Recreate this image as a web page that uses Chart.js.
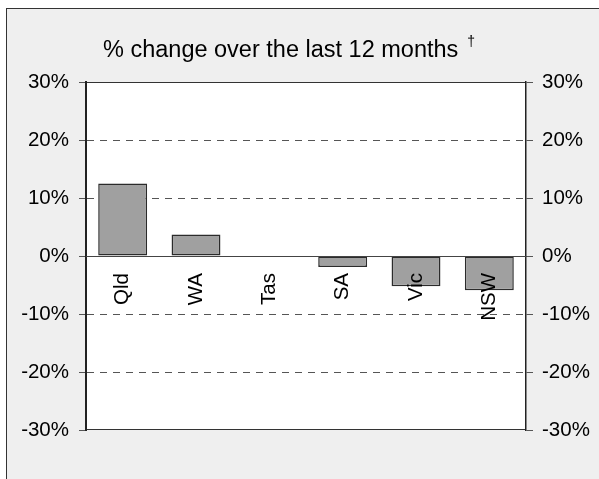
<!DOCTYPE html>
<html>
<head>
<meta charset="utf-8">
<script src="https://cdn.jsdelivr.net/npm/chart.js@4"></script>
<style>
  html, body { margin: 0; padding: 0; background: #fff; }
  canvas { display: block; }
</style>
</head>
<body>
<canvas id="changeChart" width="599" height="479"></canvas>
<script>
var states = ["Qld", "WA", "Tas", "SA", "Vic", "NSW"];
var changes = [12.5, 3.7, 0, -1.9, -5.2, -5.9];
var tickValues = [-30, -20, -10, 0, 10, 20, 30];
var titleText = "% change over the last 12 months";
var titleMark = "\u2020";

var FONT = "'Liberation Sans', Arial, sans-serif";

// grey panel, white plot area and the plot frame
var panel = {
  id: "panel",
  beforeDraw: function(chart) {
    var ctx = chart.ctx;
    var a = chart.chartArea;
    ctx.save();
    ctx.fillStyle = "#ffffff";
    ctx.fillRect(0, 0, chart.width, chart.height);
    ctx.fillStyle = "#efefef";
    ctx.fillRect(6, 8, chart.width, chart.height);
    ctx.strokeStyle = "#333333";
    ctx.lineWidth = 1;
    ctx.strokeRect(6.5, 8.5, chart.width + 10, chart.height + 10);
    ctx.fillStyle = "#ffffff";
    ctx.fillRect(a.left, a.top, a.right - a.left, a.bottom - a.top);
    ctx.strokeStyle = "#333333";
    ctx.beginPath();
    ctx.moveTo(a.left, a.top + 0.5);
    ctx.lineTo(a.right, a.top + 0.5);
    ctx.moveTo(a.left, a.bottom - 0.5);
    ctx.lineTo(a.right, a.bottom - 0.5);
    ctx.stroke();
    ctx.restore();
  },
  afterDraw: function(chart) {
    var ctx = chart.ctx;
    ctx.save();
    ctx.fillStyle = "#000000";
    ctx.textBaseline = "alphabetic";
    ctx.textAlign = "left";
    ctx.font = "23.5px " + FONT;
    ctx.fillText(titleText, 103, 57);
    var w = ctx.measureText(titleText).width;
    ctx.font = "14px " + FONT;
    ctx.fillText(titleMark, 103 + w + 9, 46);
    ctx.restore();
  }
};

var pct = function(v) { return v + "%"; };

var ctx = document.getElementById("changeChart").getContext("2d");
var chart = new Chart(ctx, {
  type: "bar",
  data: {
    labels: states,
    datasets: [{
      label: "Change",
      data: changes,
      backgroundColor: "#a0a0a0",
      borderColor: "#2b2b2b",
      borderWidth: 1.5,
      borderSkipped: false,
      barPercentage: 0.667,
      categoryPercentage: 1,
      yAxisID: "y"
    }]
  },
  options: {
    responsive: false,
    animation: false,
    devicePixelRatio: 1,
    layout: { padding: { top: 82, bottom: 49, left: 0, right: 0 } },
    plugins: {
      legend: { display: false },
      title: { display: false },
      tooltip: { enabled: false }
    },
    scales: {
      x: {
        position: { y: 0 },
        grid: { display: false, drawTicks: false },
        border: { display: true, color: "#444444", width: 1, z: 1 },
        ticks: {
          z: 1,
          color: "#000000",
          font: { family: FONT, size: 20.5 },
          minRotation: 90,
          maxRotation: 90,
          autoSkip: false,
          padding: 17
        }
      },
      y: {
        position: "left",
        min: -30,
        max: 30,
        afterBuildTicks: function(scale) {
          scale.ticks = tickValues.map(function(v) { return { value: v }; });
        },
        afterFit: function(scale) { scale.width = 86; },
        grid: {
          color: function(c) {
            var v = c.tick ? c.tick.value : null;
            return (v === 30 || v === -30 || v === 0) ? "rgba(0,0,0,0)" : "#555555";
          },
          tickColor: "#555555",
          tickLength: 7,
          lineWidth: 1
        },
        border: { display: true, color: "#222222", width: 2, dash: [7, 6] },
        ticks: {
          color: "#000000",
          font: { family: FONT, size: 20.5 },
          padding: 10,
          callback: pct
        }
      },
      y2: {
        position: "right",
        min: -30,
        max: 30,
        afterBuildTicks: function(scale) {
          scale.ticks = tickValues.map(function(v) { return { value: v }; });
        },
        afterFit: function(scale) { scale.width = 73; },
        grid: {
          drawOnChartArea: false,
          tickColor: "#555555",
          tickLength: 7
        },
        border: { display: true, color: "#222222", width: 1.5 },
        ticks: {
          color: "#000000",
          font: { family: FONT, size: 20.5 },
          padding: 9,
          callback: pct
        }
      }
    }
  },
  plugins: [panel]
});
</script>
</body>
</html>
